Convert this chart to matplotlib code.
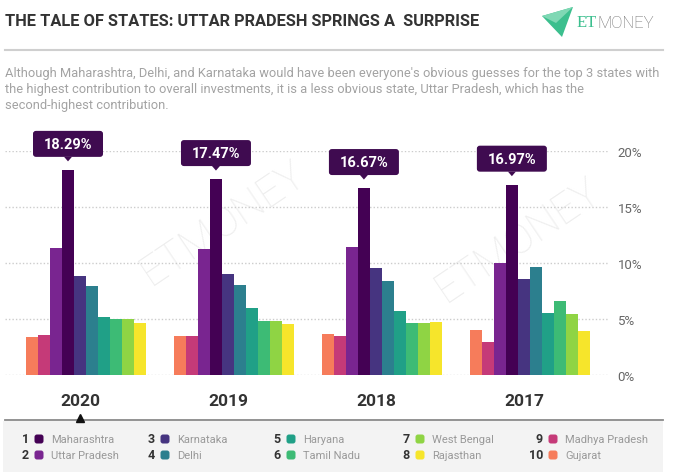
import matplotlib
matplotlib.use("Agg")
import matplotlib.pyplot as plt
import matplotlib.transforms as mtransforms
from matplotlib import font_manager
from matplotlib.patches import Rectangle, FancyBboxPatch, Polygon

# ---- data (percent of overall investments) ----
years = ["2020", "2019", "2018", "2017"]
states = ["Gujarat", "Madhya Pradesh", "Uttar Pradesh", "Maharashtra", "Karnataka",
          "Delhi", "Haryana", "Tamil Nadu", "West Bengal", "Rajasthan"]

gujarat = [3.4, 3.45, 3.65, 4.05]
madhya_pradesh = [3.6, 3.45, 3.5, 2.9]
uttar_pradesh = [11.3, 11.25, 11.4, 10.0]
maharashtra = [18.29, 17.47, 16.67, 16.97]
karnataka = [8.8, 9.0, 9.5, 8.6]
delhi = [7.9, 8.05, 8.35, 9.6]
haryana = [5.2, 5.95, 5.7, 5.55]
tamil_nadu = [5.0, 4.8, 4.65, 6.6]
west_bengal = [5.0, 4.85, 4.65, 5.4]
rajasthan = [4.65, 4.55, 4.75, 3.95]

values = [gujarat, madhya_pradesh, uttar_pradesh, maharashtra, karnataka,
          delhi, haryana, tamil_nadu, west_bengal, rajasthan]
colors = ["#f67c5b", "#c53a78", "#792590", "#440154", "#463480",
          "#2c7f8e", "#20a087", "#3dbb75", "#8fd444", "#f6e52b"]

legend_order = ["Maharashtra", "Uttar Pradesh", "Karnataka", "Delhi", "Haryana",
                "Tamil Nadu", "West Bengal", "Rajasthan", "Madhya Pradesh", "Gujarat"]
yticks = [0, 5, 10, 15, 20]

title = "THE TALE OF STATES: UTTAR PRADESH SPRINGS A  SURPRISE"
subtitle = [
    "Although Maharashtra, Delhi, and Karnataka would have been everyone's obvious guesses for the top 3 states with",
    "the highest contribution to overall investments, it is a less obvious state, Uttar Pradesh, which has the",
    "second-highest contribution.",
]


def has_font(name):
    try:
        font_manager.findfont(name, fallback_to_default=False)
        return True
    except ValueError:
        return False


base = "Roboto" if has_font("Roboto") else "DejaVu Sans"
narrow = "Liberation Sans Narrow" if has_font("Liberation Sans Narrow") else base
plt.rcParams["font.family"] = [base, "DejaVu Sans"]

W, H = 680, 477
fig = plt.figure(figsize=(W / 100, H / 100), dpi=100)
fig.patch.set_facecolor("white")

# overlay in pixel coordinates for the page furniture
ov = fig.add_axes([0, 0, 1, 1], zorder=0)
ov.set_xlim(0, W)
ov.set_ylim(H, 0)
ov.axis("off")

ax = fig.add_axes([5 / W, (H - 376) / H, 603 / W, 224.3 / H], zorder=1)
ax.patch.set_alpha(0)

group_gap = 12.33
n = len(states)
for g in range(len(years)):
    for j in range(n):
        ax.bar(g * group_gap + j, values[j][g], width=1, align="edge",
               color=colors[j], zorder=2)

ax.set_xlim(-1.75, 48.5)
ax.set_ylim(0, 20)
ax.set_yticks(yticks)
ax.set_yticklabels([f"{t}%" for t in yticks])
ax.yaxis.tick_right()
ax.tick_params(axis="y", length=0, pad=7, labelsize=9.5, labelcolor="#666666")
ax.set_xticks([])
for s in ax.spines.values():
    s.set_visible(False)
ax.grid(axis="y", linestyle=(0, (1, 1.5)), color="#cccccc", linewidth=1, zorder=0)
ax.set_axisbelow(True)

# watermark
for cx, cy in [(223, 223), (518, 240)]:
    ov.text(cx, cy, "ETMONEY", fontsize=30, color="#eeeeee", rotation=34,
            ha="center", va="center", fontweight="light")

# pixel scale of the chart axes
fig.canvas.draw()
bb = ax.get_window_extent()
px_x = bb.width / (48.5 + 1.75)
px_y = bb.height / 20

# value callouts above Maharashtra bars
mi = states.index("Maharashtra")
for g in range(len(years)):
    v = maharashtra[g]
    cx = g * group_gap + mi + 0.5
    bw, bh, gap = 70 / px_x, 26 / px_y, 13 / px_y
    box = FancyBboxPatch((cx - bw / 2, v + gap), bw, bh,
                         boxstyle="round,pad=0,rounding_size=0.25",
                         fc="#3f0b50", ec="none", clip_on=False, zorder=5)
    ax.add_patch(box)
    tri = Polygon([(cx - 4 / px_x, v + gap + 0.01), (cx + 4 / px_x, v + gap + 0.01),
                   (cx, v + gap - 4.5 / px_y)], closed=True, fc="#3f0b50",
                  ec="none", clip_on=False, zorder=5)
    ax.add_patch(tri)
    ax.text(cx, v + gap + bh / 2, f"{v:.2f}%", color="white", fontsize=10.5,
            fontweight="bold", ha="center", va="center", zorder=6, clip_on=False)

# year labels
bt = mtransforms.blended_transform_factory(ax.transData, ov.transData)
for g, y in enumerate(years):
    ov.text(g * group_gap + 4.5, 402, y, transform=bt, ha="center", va="center",
            fontsize=12.5, fontweight="bold", color="#333333")

# title, fitted to its width in the reference
t = ov.text(5, 22, title, fontsize=13, fontweight="bold", color="#333333",
            va="center", ha="left", family=[narrow, "DejaVu Sans"])
fig.canvas.draw()
tw = t.get_window_extent().width
t.set_fontsize(13 * 472 / tw)

# logo
ov.add_patch(Polygon([(542, 17), (573, 8), (562, 38)], closed=True, fc="#3cbf8e", ec="none"))
ov.add_patch(Polygon([(542, 17), (573, 8), (556, 24)], closed=True, fc="#7fd8b4", ec="none"))
lt = ov.text(577, 23, "ET", fontsize=12, color="#3cbf8e", va="center", ha="left",
             family=["Liberation Serif", "DejaVu Serif"])
fig.canvas.draw()
ex = lt.get_window_extent()
ov.text(577 + ex.width, 23, "MONEY", fontsize=12, color="#6b6b6b", va="center",
        ha="left", fontweight="light")

ov.plot([5, 663], [51, 51], color="#cfcfcf", lw=1.5)

# subtitle, first line fitted to the reference width
sub_y = [74, 90, 105]
subs = [ov.text(5, y, line, fontsize=9, color="#a3a3a3", va="center", ha="left")
        for line, y in zip(subtitle, sub_y)]
fig.canvas.draw()
fs = 9 * 659 / subs[0].get_window_extent().width
for st in subs:
    st.set_fontsize(fs)

# bottom rule and legend panel
ov.plot([5, 663], [421, 421], color="#8a8a8a", lw=1.3)
ov.plot([80], [418.5], marker="^", color="#111111", markersize=6)
ov.add_patch(Rectangle((3, 422), 660, 51, fc="#f3f3f3", ec="none"))

col_sq = [39, 165, 291, 420, 553]
row_y = [440, 456]
for k, name in enumerate(legend_order):
    c, r = divmod(k, 2)
    sx, sy = col_sq[c], row_y[r]
    ov.text(sx - 10, sy, str(k + 1), ha="right", va="center", fontsize=9,
            fontweight="bold", color="#333333")
    col = colors[states.index(name)]
    ov.add_patch(FancyBboxPatch((sx - 4.5, sy - 4.5), 9, 9,
                                boxstyle="round,pad=0,rounding_size=2.5",
                                fc=col, ec="none"))
    ov.text(sx + 12, sy, name, ha="left", va="center", fontsize=8, color="#999999")

fig.savefig("out.png", dpi=100, facecolor="white")
